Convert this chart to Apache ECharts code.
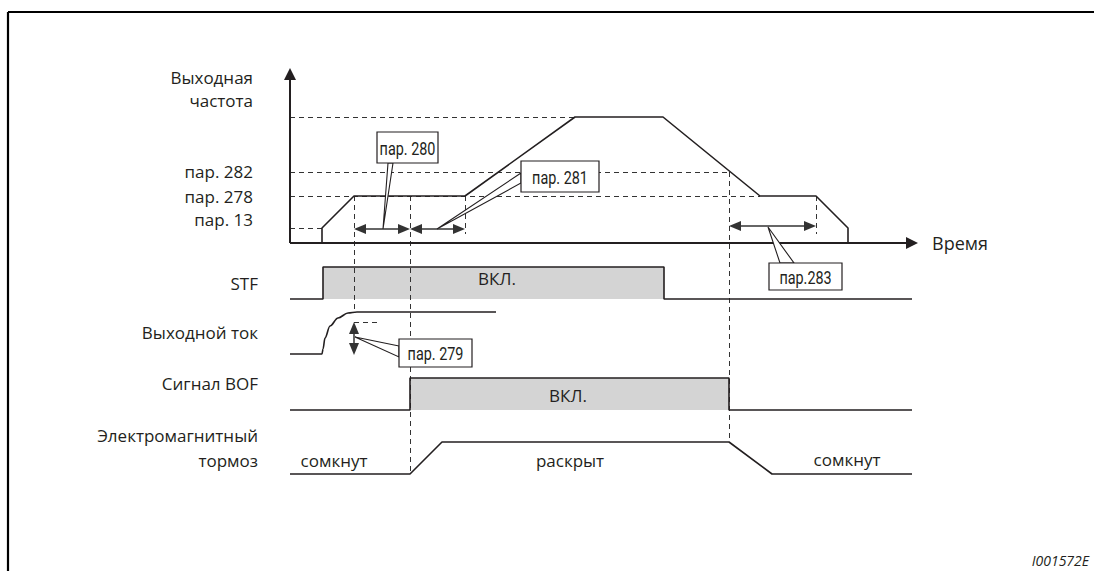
<!DOCTYPE html>
<html>
<head>
<meta charset="utf-8">
<script src="https://cdn.jsdelivr.net/npm/echarts@6.0.0/dist/echarts.min.js"></script>
<style>
html, body { margin: 0; padding: 0; background: #fff; }
#main { width: 1094px; height: 571px; }
</style>
</head>
<body>
<div id="main"></div>
<script>
// drawing plane: x = time, y = signal level (one unit = one pixel of the 1094 x 571 sheet)
var freqPts    = [[290,243],[322,243],[322,228],[354,196],[465,196],[575,117],[663,117],[760,196],[816,196],[848,228],[848,243]];
var stfPts     = [[290,299],[323,299],[323,267],[664,267],[664,299],[912,299]];
var currentPts = [[290,354],[322,354],[323,349],[325,338],[330,326],[338,318],[348,313],[357,312],[496,312]];
var bofPts     = [[290,410],[410,410],[410,378],[729,378],[729,410],[912,410]];
var brakePts   = [[290,474],[410,474],[442,442],[729,442],[772,474],[912,474]];
var onBlocks   = [[323,267,664,299],[410,378,729,410]];

var frameLines = [[[8,12],[8,571]],[[8,12],[1094,12]]];
var axisLines  = [[[290,243],[290,68]],[[290,243],[918,243]]];
var guides = [
  [[290,117],[575,117]], [[290,172],[729,172]], [[290,196],[760,196]], [[290,228],[322,228]],
  [[354,196],[354,312]], [[410,196],[410,474]], [[465,196],[465,234]], [[729,172],[729,442]],
  [[816,196],[816,234]], [[354,322],[378,322]]
];
var spans = [[[354,229],[410,229]],[[410,229],[465,229]],[[729,226],[816,226]],[[354,322],[354,355]]];

var calloutText = ['пар. 280','пар. 281','пар.283','пар. 279'];
var calloutBox  = [[377,132,438,163],[521,161,599,192],[769,263,842,290],[399,339,472,367]];
var calloutTip  = [[383,229],[437,229],[768,227],[355,337]];
var calloutBase = [[[388,163],[393,163]],[[521,173],[521,183]],[[780,263],[794,263]],[[399,346],[399,357]]];

var rowLabels = ['Выходная','частота','пар. 282','пар. 278','пар. 13','STF','Выходной ток','Сигнал BOF','Электромагнитный','тормоз'];
var rowLabelX = [253,253,253,253,253,258,258,258,258,258];
var rowLabelY = [77,100,171,196,219,283,332,383,435,460];

var stateText = ['ВКЛ.','ВКЛ.','сомкнут','раскрыт','сомкнут'];
var statePos  = [[497,278],[568,395],[334,460],[570,460],[847,459]];

var INK = '#231f20';
var FONT = '"Open Sans", "Noto Sans", sans-serif';
var NARROW = 'Roboto, "Open Sans", sans-serif';

var dom = document.getElementById('main');
var myChart = echarts.init(dom, null, { renderer: 'svg' });

function arrowItem(api, a, b, headA, headB, len, hw, lw, color) {
    var p1 = api.coord(a), p2 = api.coord(b);
    var dx = p2[0] - p1[0], dy = p2[1] - p1[1];
    var L = Math.sqrt(dx * dx + dy * dy), ux = dx / L, uy = dy / L;
    function head(tip, vx, vy) {
        var bx = tip[0] - vx * len, by = tip[1] - vy * len;
        return { type: 'polygon', shape: { points: [[tip[0], tip[1]], [bx - vy * hw, by + vx * hw], [bx + vy * hw, by - vx * hw]] },
                 style: { fill: color } };
    }
    var s1 = headA ? len * 0.5 : 0, s2 = headB ? len * 0.5 : 0;
    var kids = [{ type: 'line',
        shape: { x1: p1[0] + ux * s1, y1: p1[1] + uy * s1, x2: p2[0] - ux * s2, y2: p2[1] - uy * s2 },
        style: { stroke: color, lineWidth: lw } }];
    if (headA) kids.push(head(p1, -ux, -uy));
    if (headB) kids.push(head(p2, ux, uy));
    return { type: 'group', children: kids };
}

function signal(pts, smooth) {
    return { type: 'line', data: pts, symbol: 'none', smooth: smooth || false, smoothMonotone: 'x',
             lineStyle: { color: INK, width: 1.6 }, z: 3, silent: true, animation: false };
}

function textItem(api, x, y, txt, font, align) {
    var p = api.coord([x, y]);
    return { type: 'text', x: p[0], y: p[1],
             style: { text: txt, font: font, fill: INK, align: align, verticalAlign: 'middle',
                      textAlign: align, textVerticalAlign: 'middle' } };
}

var option = {
    animation: false,
    grid: { left: 0, right: 0, top: 0, bottom: 0 },
    xAxis: { type: 'value', min: 0, max: 1094, show: false },
    yAxis: { type: 'value', min: 0, max: 571, inverse: true, show: false },
    series: [
        { // ВКЛ. blocks
            type: 'custom', z: 1, silent: true, data: onBlocks,
            renderItem: function (params, api) {
                var b = onBlocks[params.dataIndex];
                var p1 = api.coord([b[0], b[1]]), p2 = api.coord([b[2], b[3]]);
                return { type: 'rect', shape: { x: p1[0], y: p1[1], width: p2[0] - p1[0], height: p2[1] - p1[1] },
                         style: { fill: '#d4d4d4' } };
            }
        },
        {
            type: 'lines', coordinateSystem: 'cartesian2d', z: 2, silent: true, animation: false,
            data: guides.map(function (g) { return { coords: g }; }),
            lineStyle: { color: '#333', width: 1, type: [5, 4], opacity: 1 }
        },
        signal(freqPts), signal(stfPts), signal(currentPts, 0.35), signal(bofPts), signal(brakePts),
        { // frame
            type: 'custom', z: 3, silent: true, data: frameLines.map(function (l) { return l[0]; }),
            renderItem: function (params, api) {
                var l = frameLines[params.dataIndex];
                return arrowItem(api, l[0], l[1], false, false, 0, 0, 2.2, '#000');
            }
        },
        { // axes with arrow heads
            type: 'custom', z: 4, silent: true, data: axisLines.map(function (l) { return l[0]; }),
            renderItem: function (params, api) {
                var l = axisLines[params.dataIndex];
                return arrowItem(api, l[0], l[1], false, true, 12, 6, 2, INK);
            }
        },
        { // dimension arrows
            type: 'custom', z: 4, silent: true, data: spans.map(function (s) { return s[0]; }),
            renderItem: function (params, api) {
                var s = spans[params.dataIndex];
                return arrowItem(api, s[0], s[1], true, true, 12, 5, 1.5, '#333');
            }
        },
        { // callouts
            type: 'custom', z: 5, silent: true, data: calloutTip,
            renderItem: function (params, api) {
                var i = params.dataIndex, b = calloutBox[i];
                var p1 = api.coord([b[0], b[1]]), p2 = api.coord([b[2], b[3]]);
                var tip = api.coord(calloutTip[i]);
                var b0 = api.coord(calloutBase[i][0]), b1 = api.coord(calloutBase[i][1]);
                return { type: 'group', children: [
                    { type: 'polygon', shape: { points: [b0, tip, b1] }, style: { fill: '#fff', stroke: INK, lineWidth: 1.1 } },
                    { type: 'rect', shape: { x: p1[0], y: p1[1], width: p2[0] - p1[0], height: p2[1] - p1[1] },
                      style: { fill: '#fff', stroke: INK, lineWidth: 1.2 } },
                    { type: 'text', x: (p1[0] + p2[0]) / 2, y: (p1[1] + p2[1]) / 2 + 1, scaleX: 0.8,
                      style: { text: calloutText[i], font: '18px ' + NARROW, fill: INK, align: 'center', verticalAlign: 'middle',
                               textAlign: 'center', textVerticalAlign: 'middle' } }
                ] };
            }
        },
        { // row labels
            type: 'custom', z: 6, silent: true, data: rowLabelY.map(function (y, i) { return [rowLabelX[i], y]; }),
            renderItem: function (params, api) {
                var i = params.dataIndex;
                return textItem(api, rowLabelX[i], rowLabelY[i], rowLabels[i], '17px ' + FONT, 'right');
            }
        },
        { // state texts
            type: 'custom', z: 6, silent: true, data: statePos,
            renderItem: function (params, api) {
                var i = params.dataIndex;
                return textItem(api, statePos[i][0], statePos[i][1], stateText[i], '17px ' + FONT, 'center');
            }
        },
        { // axis name and figure id
            type: 'custom', z: 6, silent: true, data: [[932, 243], [1089, 560]],
            renderItem: function (params, api) {
                if (params.dataIndex === 0) return textItem(api, 932, 243, 'Время', '18px ' + FONT, 'left');
                return textItem(api, 1089, 560, 'I001572E', 'italic 14px ' + FONT, 'right');
            }
        }
    ]
};
if (option && typeof option === "object") {
    myChart.setOption(option, true);
}
</script>
</body>
</html>
